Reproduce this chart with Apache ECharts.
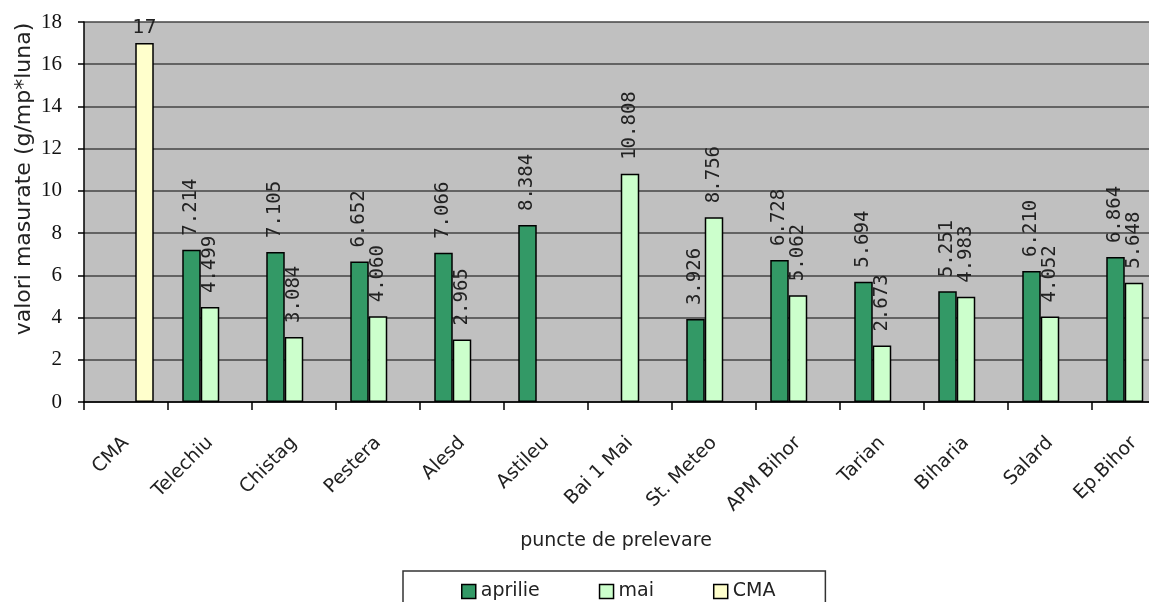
<!DOCTYPE html>
<html><head><meta charset="utf-8">
<script src="https://cdn.jsdelivr.net/npm/echarts@6/dist/echarts.min.js"></script>
<style>html,body{margin:0;padding:0;background:#fff;overflow:hidden;width:1149px;height:602px}#c{width:1176px;height:602px}</style>
</head><body><div id="c"></div>
<script>
const categories = ['CMA','Telechiu','Chistag','Pestera','Alesd','Astileu','Bai 1 Mai','St. Meteo','APM Bihor','Tarian','Biharia','Salard','Ep.Bihor'];
const aprilie = [null,7.214,7.105,6.652,7.066,8.384,null,3.926,6.728,5.694,5.251,6.210,6.864];
const mai = [null,4.499,3.084,4.060,2.965,null,10.808,8.756,5.062,2.673,4.983,4.052,5.648];
const cma = [17,null,null,null,null,null,null,null,null,null,null,null,null];
const yTicks = {min:0,max:18,interval:2};

const chart = echarts.init(document.getElementById('c'), null, {renderer:'canvas'});
const vlabel = {
  show:true, position:'top', rotate:90, align:'left', verticalAlign:'middle',
  distance:14, fontFamily:'DejaVu Sans Mono', fontSize:19, color:'#222',
  formatter:p=>p.value==null?'':p.value.toFixed(3)
};
const border = {borderColor:'#000', borderWidth:1.5};
chart.setOption({
  animation:false,
  backgroundColor:'#fff',
  grid:{left:84, top:22, bottom:200, right:0, show:true, backgroundColor:'#c0c0c0', borderWidth:0},
  legend:{
    left:403, top:571, orient:'horizontal',
    padding:[11,50,20,58], itemGap:59, itemWidth:14, itemHeight:14,
    borderColor:'#333', borderWidth:1.5, backgroundColor:'#fff',
    selectedMode:false, icon:'rect',
    itemStyle:{borderColor:'#000', borderWidth:1.5},
    textStyle:{fontFamily:'DejaVu Sans', fontSize:19, color:'#222'},
    data:['aprilie','mai','CMA']
  },
  graphic:[{
    type:'text', x:24, y:179, rotation:Math.PI/2,
    style:{text:'valori masurate (g/mp*luna)', align:'center', verticalAlign:'middle',
           fontFamily:'DejaVu Sans', fontSize:22, fill:'#222'}
  },{
    type:'text', x:616, y:541,
    style:{text:'puncte de prelevare', align:'center', verticalAlign:'middle',
           fontFamily:'DejaVu Sans', fontSize:19, fill:'#222'}
  }],
  xAxis:{
    type:'category', data:categories,
    axisLine:{lineStyle:{color:'#000', width:1.5}},
    axisTick:{show:true, length:8, lineStyle:{color:'#000', width:1.5}},
    axisLabel:{rotate:45, margin:38, interval:0, fontFamily:'DejaVu Sans', fontSize:19, color:'#222'},
    splitLine:{show:false}
  },
  yAxis:{
    type:'value', min:yTicks.min, max:yTicks.max, interval:yTicks.interval,
    axisLine:{show:true, lineStyle:{color:'#000', width:1.5}},
    axisTick:{show:true, length:6, lineStyle:{color:'#000', width:1.5}},
    axisLabel:{margin:22, fontFamily:'Liberation Serif', fontSize:21, color:'#111'},
    splitLine:{show:true, lineStyle:{color:'#444', width:1.5}}
  },
  series:[
    {name:'aprilie', type:'bar', data:aprilie, barWidth:18.5, barGap:'0%',
     itemStyle:Object.assign({color:'#339966'}, border), label:vlabel},
    {name:'mai', type:'bar', data:mai, barWidth:18.5, barGap:'0%',
     itemStyle:Object.assign({color:'#ccffcc'}, border), label:vlabel},
    {name:'CMA', type:'bar', data:cma, barWidth:18.5, barGap:'0%',
     itemStyle:Object.assign({color:'#ffffcc'}, border),
     label:{show:true, position:'top', distance:6, fontFamily:'DejaVu Sans', fontSize:19, color:'#222',
            formatter:p=>p.value==null?'':String(p.value)}}
  ]
});
</script></body></html>
